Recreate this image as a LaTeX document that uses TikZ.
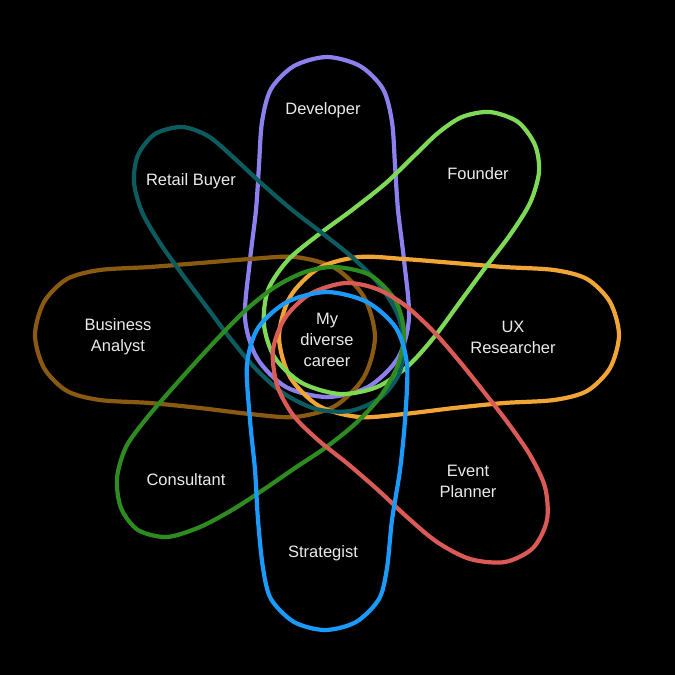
\documentclass[tikz,border=0pt]{standalone}
\usepackage{fontspec}
\setmainfont{Liberation Sans}
\definecolor{devpurple}{HTML}{8C7FEE}
\definecolor{foundergreen}{HTML}{7ED957}
\definecolor{uxorange}{HTML}{F0A535}
\definecolor{eventred}{HTML}{DA5A55}
\definecolor{stratblue}{HTML}{1A9BFC}
\definecolor{consultgreen}{HTML}{2E8B1F}
\definecolor{analystbrown}{HTML}{8B5A12}
\definecolor{buyerteal}{HTML}{0B5B5F}
\begin{document}
\begin{tikzpicture}[x=1pt, y=-1pt,
  petal/.style={line width=4.2pt},
  role/.style={text=white!92!black, font=\fontsize{16.5}{21}\selectfont, align=center}]
\fill[black] (0,0) rectangle (675,675);
\useasboundingbox (0,0) rectangle (675,675);
% the eight petals
\draw[petal, devpurple] plot[smooth cycle] coordinates {(327,57) (360,66) (383,89) (392,122) (395,165) (398,210) (404,260) (409,318) (398,358) (368,387) (327,397) (286,387) (257,358) (245,318) (250,260) (256,210) (259,165) (262,122) (271,89) (294,66)};
\draw[petal, analystbrown] plot[smooth cycle] coordinates {(35,335) (44,302) (67,279) (100,270) (150,267) (200,263) (250,259) (295,257) (335,268) (364,297) (375,337) (364,377) (335,406) (295,417) (250,414) (200,408) (150,403) (100,400) (67,391) (44,368)};
\draw[petal, uxorange] plot[smooth cycle] coordinates {(619,335) (610,302) (587,279) (554,270) (504,267) (454,263) (404,259) (359,257) (319,268) (290,297) (279,337) (290,377) (319,406) (359,417) (404,414) (454,408) (504,403) (554,400) (587,391) (610,368)};
\draw[petal, foundergreen] plot[smooth cycle] coordinates {(462,117) (490,112) (518,122) (535,145) (539,172) (530,203) (510,235) (485,268) (460,302) (435,336) (408,366) (377,387) (340,394) (302,383) (275,358) (264,325) (268,290) (288,260) (318,235) (352,210) (386,183) (415,155) (438,133)};
\draw[petal, buyerteal] plot[smooth cycle] coordinates {(182,127) (155,134) (138,155) (134,182) (142,212) (160,243) (182,274) (206,306) (230,338) (255,368) (283,393) (316,409) (350,411) (380,398) (399,374) (404,343) (397,313) (378,283) (352,257) (322,233) (291,209) (261,183) (233,157) (208,136)};
\draw[petal, consultgreen] plot[smooth cycle] coordinates {(335,267) (370,275) (395,300) (404,332) (398,365) (380,397) (355,424) (325,448) (295,468) (263,490) (232,510) (200,527) (167,537) (138,530) (121,508) (117,478) (126,447) (146,419) (170,391) (195,363) (220,336) (247,309) (275,287) (305,272)};
\draw[petal, eventred] plot[smooth cycle] coordinates {(345,283) (310,294) (285,318) (273,350) (277,385) (293,415) (318,440) (348,464) (378,490) (407,517) (437,542) (470,559) (505,562) (533,548) (547,520) (545,487) (530,455) (508,423) (484,392) (460,362) (434,332) (406,306) (377,289)};
\draw[petal, stratblue] plot[smooth cycle] coordinates {(327,292) (367,302) (396,328) (407,365) (405,420) (400,470) (392,520) (387,568) (379,599) (356,622) (325,630) (294,622) (271,599) (263,568) (258,520) (255,470) (250,420) (247,365) (258,328) (287,302)};
% labels
\node[role] (center) at (327,340) {My\\diverse\\career};
\node[role] (dev) at (323,110) {Developer};
\node[role] (founder) at (478,174) {Founder};
\node[role] (buyer) at (191,181) {Retail Buyer};
\node[role] (analyst) at (118,337) {Business\\Analyst};
\node[role] (ux) at (513,337) {UX\\Researcher};
\node[role] (consult) at (186,480) {Consultant};
\node[role] (event) at (468,481) {Event\\Planner};
\node[role] (strat) at (323,553) {Strategist};
\end{tikzpicture}
\end{document}
